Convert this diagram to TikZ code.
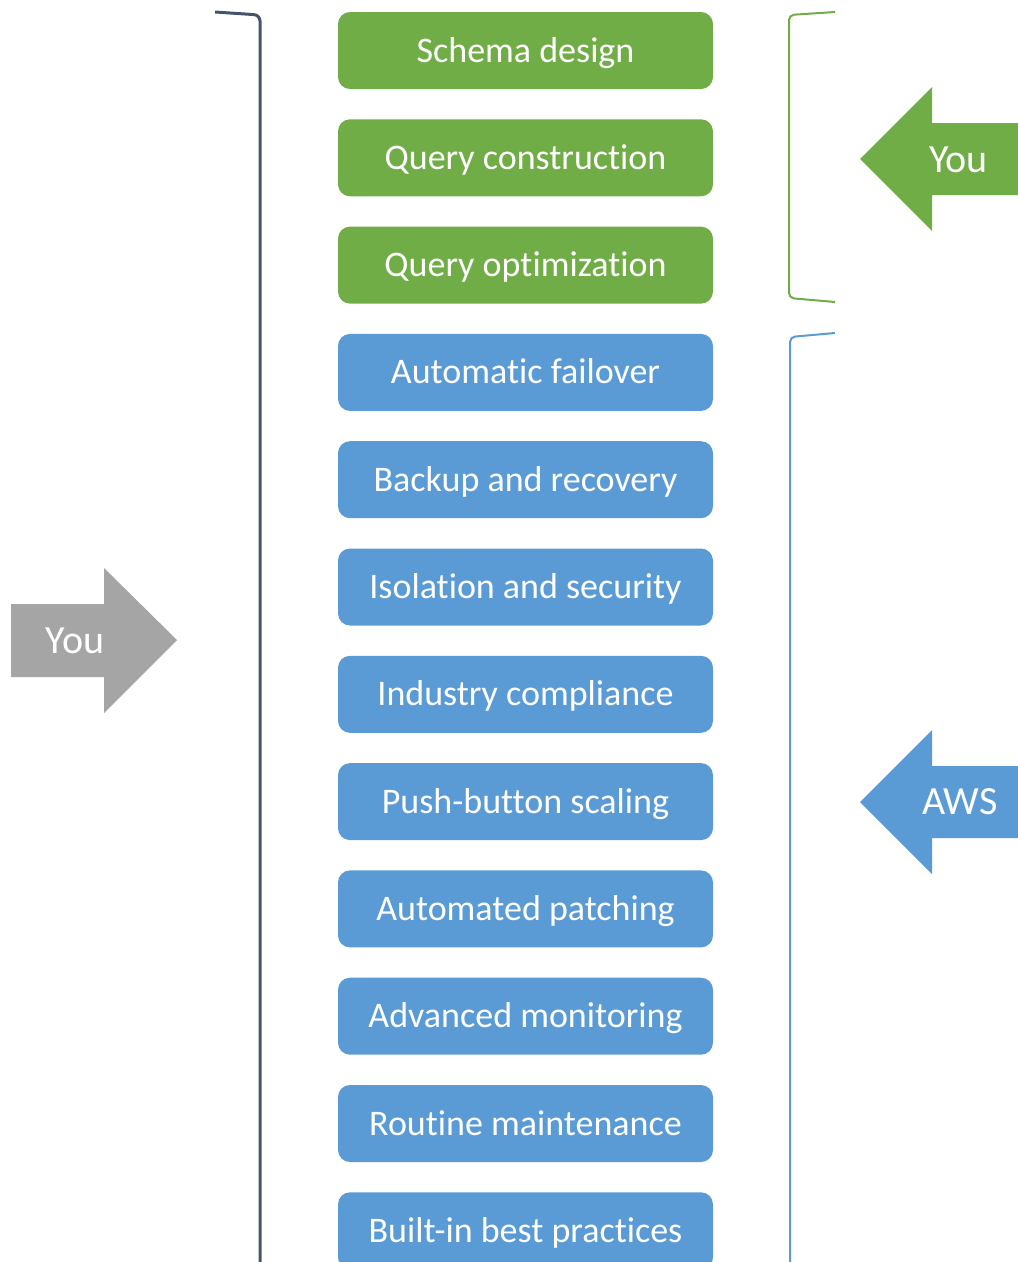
\documentclass[tikz,border=0pt]{standalone}
\usepackage{fontspec}
\setmainfont{Carlito}[Ligatures=NoCommon]
\definecolor{grn}{HTML}{70AD47}
\definecolor{blu}{HTML}{5B9BD5}
\definecolor{gry}{HTML}{A5A5A5}
\definecolor{darkline}{HTML}{44546A}
\begin{document}
\begin{tikzpicture}[x=1pt,y=-1pt,
  box/.style={rounded corners=12pt, minimum width=375pt, minimum height=77pt,
    text=white, font=\fontsize{36}{40}\selectfont, text height=23pt, text depth=0pt, inner sep=0pt},
  arrowtxt/.style={text=white, font=\fontsize{40}{44}\selectfont, anchor=base, inner sep=0pt}]
\useasboundingbox (0,0) rectangle (1018,1262);
\clip (0,0) rectangle (1018,1262);
% boxes
\node[box, fill=grn] (b1) at (525.5,50.5) {Schema design};
\node[box, fill=grn] (b2) at (525.5,157.8) {Query construction};
\node[box, fill=grn] (b3) at (525.5,265.1) {Query optimization};
\node[box, fill=blu] (b4) at (525.5,372.4) {Automatic failover};
\node[box, fill=blu] (b5) at (525.5,479.7) {Backup and recovery};
\node[box, fill=blu] (b6) at (525.5,587.0) {Isolation and security};
\node[box, fill=blu] (b7) at (525.5,694.3) {Industry compliance};
\node[box, fill=blu] (b8) at (525.5,801.6) {Push-button scaling};
\node[box, fill=blu] (b9) at (525.5,908.9) {Automated patching};
\node[box, fill=blu] (b10) at (525.5,1016.2) {Advanced monitoring};
\node[box, fill=blu] (b11) at (525.5,1123.5) {Routine maintenance};
\node[box, fill=blu] (b12) at (525.5,1230.8) {Built-in best practices};
% brackets
\draw[darkline, line width=3pt, rounded corners=6pt] (215,12) -- (260,15) -- (260,1275);
\draw[grn, line width=2pt, rounded corners=5pt] (835,12) -- (789,15) -- (789,298) -- (835,302);
\draw[blu, line width=2pt, rounded corners=5pt] (835,333) -- (790,337) -- (790,1275);
% arrows
\fill[grn] (860,159) -- (932,87) -- (932,123) -- (1025,123) -- (1025,195) -- (932,195) -- (932,231) -- cycle;
\fill[blu] (860,802) -- (932,730) -- (932,766) -- (1025,766) -- (1025,838) -- (932,838) -- (932,874) -- cycle;
\fill[gry] (11,604) -- (104,604) -- (104,568) -- (177,640) -- (104,713) -- (104,677) -- (11,677) -- cycle;
\node[arrowtxt] (youR) at (958.5,172) {You};
\node[arrowtxt] (aws) at (960,814) {AWS};
\node[arrowtxt] (youL) at (75,653) {You};
\end{tikzpicture}
\end{document}
